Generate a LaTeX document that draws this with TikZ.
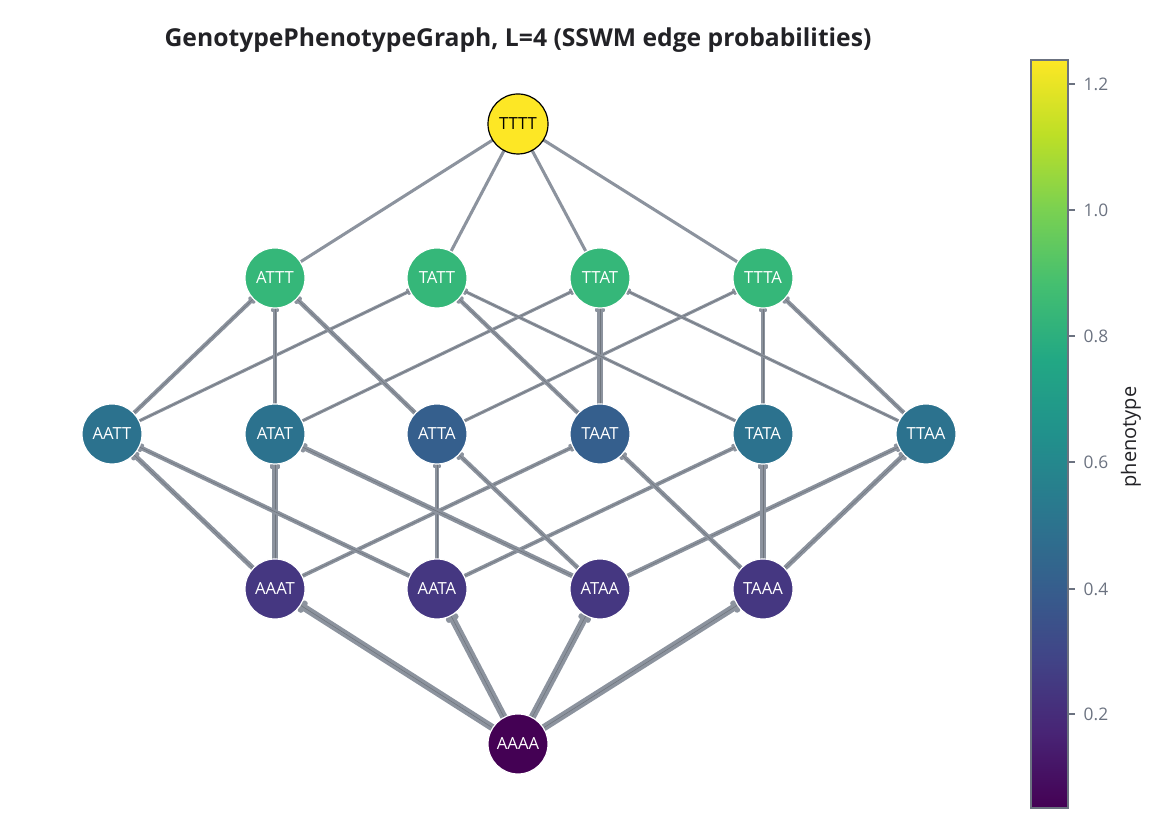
\documentclass[tikz,border=0pt]{standalone}
\usepackage{fontspec}
\setmainfont{Open Sans}
\usetikzlibrary{arrows.meta,backgrounds}
\definecolor{vira}{HTML}{440154}
\definecolor{virb}{HTML}{482475}
\definecolor{virc}{HTML}{414487}
\definecolor{vird}{HTML}{355F8D}
\definecolor{vire}{HTML}{2A788E}
\definecolor{virf}{HTML}{21918C}
\definecolor{virg}{HTML}{22A884}
\definecolor{virh}{HTML}{44BF70}
\definecolor{viri}{HTML}{7AD151}
\definecolor{virj}{HTML}{BDDF26}
\definecolor{virk}{HTML}{FDE725}
\definecolor{phtop}{HTML}{FDE725}
\definecolor{phhigh}{HTML}{35B779}
\definecolor{phmid}{HTML}{2C728E}
\definecolor{phmidlow}{HTML}{355F8D}
\definecolor{phlow}{HTML}{453781}
\definecolor{phbase}{HTML}{440154}
\definecolor{edgegray}{RGB}{140,147,158}
\definecolor{ticktext}{RGB}{107,114,128}
\definecolor{titletext}{RGB}{34,34,38}

\tikzset{
  geno/.style={circle, minimum size=45pt, inner sep=0pt, outer sep=0pt,
    draw=white, line width=0.9pt, text=white, font=\fontsize{12.5}{14}\selectfont},
  flow/.style={draw=edgegray, line cap=round,
    -{Rectangle[length=1pt 0.6, width=1pt 1.6, round]}},
  flowcore/.style={draw=edgegray!80!black, line width=0.45pt},
  ticklabel/.style={anchor=west, text=ticktext, font=\fontsize{13}{15}\selectfont},
}

\begin{document}
\begin{tikzpicture}[x=0.75pt, y=0.75pt]
  \useasboundingbox (0,0) rectangle (1167,837);

  % title
  \node[font=\fontsize{18.5}{22}\selectfont\bfseries, text=titletext] (title) at (518,797)
    {GenotypePhenotypeGraph, L=4 (SSWM edge probabilities)};

  % genotypes, one row per number of T
  \node[geno, fill=phtop, draw=black, text=black] (TTTT) at (518,713) {TTTT};

  \node[geno, fill=phhigh] (ATTT) at (275,559) {ATTT};
  \node[geno, fill=phhigh] (TATT) at (437,559) {TATT};
  \node[geno, fill=phhigh] (TTAT) at (600,559) {TTAT};
  \node[geno, fill=phhigh] (TTTA) at (763,559) {TTTA};

  \node[geno, fill=phmid]    (AATT) at (112,403) {AATT};
  \node[geno, fill=phmid]    (ATAT) at (275,403) {ATAT};
  \node[geno, fill=phmidlow] (ATTA) at (437,403) {ATTA};
  \node[geno, fill=phmidlow] (TAAT) at (600,403) {TAAT};
  \node[geno, fill=phmid]    (TATA) at (763,403) {TATA};
  \node[geno, fill=phmid]    (TTAA) at (926,403) {TTAA};

  \node[geno, fill=phlow] (AAAT) at (275,248) {AAAT};
  \node[geno, fill=phlow] (AATA) at (437,248) {AATA};
  \node[geno, fill=phlow] (ATAA) at (600,248) {ATAA};
  \node[geno, fill=phlow] (TAAA) at (763,248) {TAAA};

  \node[geno, fill=phbase] (AAAA) at (518,93) {AAAA};

  % edges, width ~ probability
  \begin{scope}[on background layer]
    \foreach \src/\dst/\wd in {AAAA/AAAT/5.4, AAAA/AATA/5.4, AAAA/ATAA/5.4, AAAA/TAAA/5.4,
        AAAT/AATT/3.8, AAAT/ATAT/4.0, AAAT/TAAT/3.0,
        AATA/AATT/3.4, AATA/ATTA/3.4, AATA/TATA/3.0,
        ATAA/ATAT/3.8, ATAA/ATTA/3.4, ATAA/TTAA/3.4,
        TAAA/TAAT/3.4, TAAA/TATA/4.0, TAAA/TTAA/3.8,
        AATT/ATTT/3.2, AATT/TATT/2.4,
        ATAT/ATTT/3.4, ATAT/TTAT/2.4,
        ATTA/ATTT/3.4, ATTA/TTTA/2.4,
        TAAT/TATT/3.2, TAAT/TTAT/3.8,
        TATA/TATT/2.4, TATA/TTTA/3.2,
        TTAA/TTAT/2.4, TTAA/TTTA/3.2}
    {
      \draw[flow, line width=\wd pt] (\src) -- (\dst);
      \draw[flowcore] (\src) -- (\dst);
    }
    \foreach \src in {ATTT, TATT, TTAT, TTTA}
      \draw[draw=edgegray, line width=2.3pt] (\src) -- (TTTT);
  \end{scope}

  % colour bar
  \foreach \lo/\hi [count=\k from 0] in {vira/virb, virb/virc, virc/vird, vird/vire, vire/virf,
      virf/virg, virg/virh, virh/viri, viri/virj, virj/virk}
    \shade[bottom color=\lo, top color=\hi] (1031,{29+74.8*\k}) rectangle (1068,{29+74.8*(\k+1)});
  \draw[ticktext, line width=1pt] (1031,29) rectangle (1068,777);

  \foreach \val/\ypos in {0.2/123, 0.4/248, 0.6/375, 0.8/501, 1.0/627, 1.2/753}
  {
    \draw[ticktext, line width=1pt] (1068,\ypos) -- (1075,\ypos);
    \node[ticklabel] (tick\ypos) at (1079,\ypos) {\val};
  }
  \node[rotate=90, text=titletext, font=\fontsize{15}{18}\selectfont] (barlabel) at (1131,400) {phenotype};
\end{tikzpicture}
\end{document}
